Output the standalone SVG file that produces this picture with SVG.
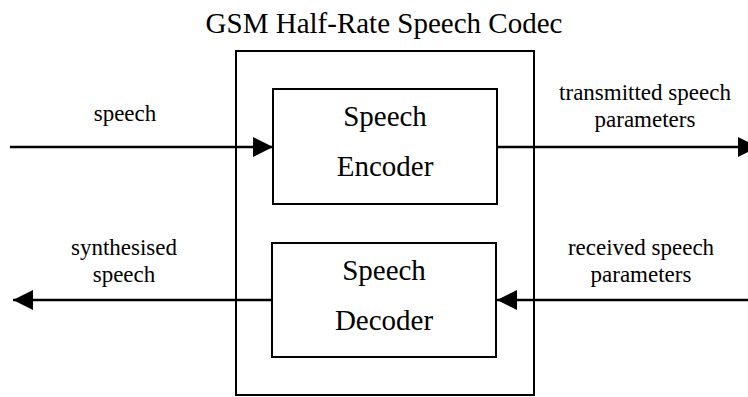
<svg xmlns="http://www.w3.org/2000/svg" width="748" height="397" viewBox="0 0 748 397">
  <style>
    .box { fill: none; stroke: #000; stroke-width: 2; }
    .conn { stroke: #000; stroke-width: 2.5; fill: none; }
    .t { font-family: "Liberation Serif", "Times New Roman", serif; fill: #000; text-anchor: middle; }
    .title { font-size: 29px; }
    .big { font-size: 29px; }
    .lbl { font-size: 23px; }
  </style>
  <defs>
    <marker id="ah" markerUnits="userSpaceOnUse" markerWidth="20" markerHeight="20" refX="20" refY="10" orient="auto">
      <path d="M0,0 L20,10 L0,20 Z" fill="#000"/>
    </marker>
  </defs>
  <rect width="748" height="397" fill="#fff"/>

  <text class="t title" x="384" y="33">GSM Half-Rate Speech Codec</text>

  <g id="codec">
    <rect class="box" x="236" y="51" width="298" height="344"/>
  </g>

  <g id="encoder">
    <rect class="box" x="273" y="89" width="224" height="115"/>
    <text class="t big" x="385" y="126">Speech</text>
    <text class="t big" x="385" y="176">Encoder</text>
  </g>

  <g id="decoder">
    <rect class="box" x="272" y="243" width="224" height="114"/>
    <text class="t big" x="384" y="280">Speech</text>
    <text class="t big" x="384" y="330">Decoder</text>
  </g>

  <g id="connectors">
    <line class="conn" x1="10" y1="147" x2="273" y2="147" marker-end="url(#ah)"/>
    <line class="conn" x1="497" y1="147" x2="758" y2="147" marker-end="url(#ah)"/>
    <line class="conn" x1="748" y1="300" x2="497" y2="300" marker-end="url(#ah)"/>
    <line class="conn" x1="272" y1="300" x2="13" y2="300" marker-end="url(#ah)"/>
  </g>

  <g id="labels">
    <text class="t lbl" x="125" y="121">speech</text>
    <text class="t lbl" x="645" y="100">transmitted speech</text>
    <text class="t lbl" x="645" y="127">parameters</text>
    <text class="t lbl" x="124" y="255">synthesised</text>
    <text class="t lbl" x="124" y="282">speech</text>
    <text class="t lbl" x="641" y="255">received speech</text>
    <text class="t lbl" x="641" y="282">parameters</text>
  </g>
</svg>
